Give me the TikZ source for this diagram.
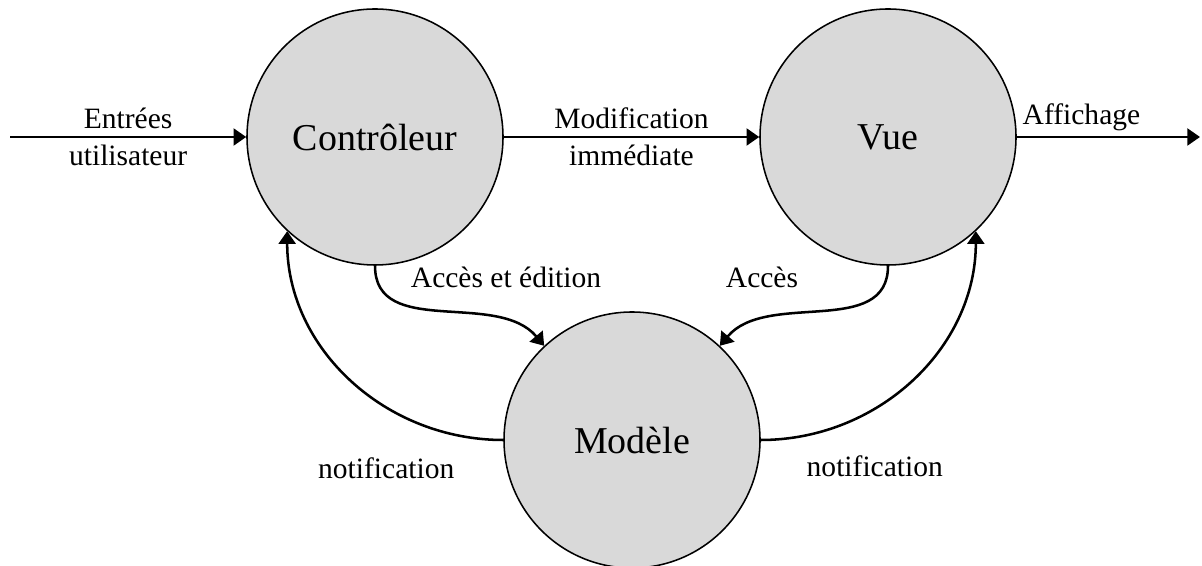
\documentclass[tikz,border=0pt]{standalone}
\usepackage{fontspec}
\setmainfont{Liberation Serif}
\usetikzlibrary{shapes,arrows.meta}
\definecolor{fond}{HTML}{D9D9D9}

\begin{document}
\begin{tikzpicture}[
  bulle/.style={circle,draw,line width=1.1pt,fill=fond,minimum size=6.4cm,inner sep=0pt,font=\fontsize{27}{32}\selectfont},
  fleche/.style={line width=1.8pt,-{Triangle[length=9pt,width=12pt]}},
  etiq/.style={font=\fontsize{21}{26}\selectfont,align=center}]
\useasboundingbox (0,0) rectangle (30.05,14.15);
\node[bulle] (ctrl) at (9.375,10.725) {Contrôleur};
\node[bulle] (vue) at (22.2,10.725) {Vue};
\node[bulle] (mod) at (15.8,3.15) {Modèle};
\coordinate (entree) at (0.25,10.725);
\coordinate (sortie) at (30.0,10.725);
\draw[fleche] (entree) -- (ctrl) node[midway,etiq] {Entrées\\utilisateur};
\draw[fleche] (ctrl) -- (vue) node[midway,etiq] {Modification\\immédiate};
\draw[fleche] (vue) -- (sortie) node[pos=0,above right,etiq] {Affichage};
\draw[fleche] (ctrl.south) node[etiq,anchor=west,xshift=0.75cm,yshift=-0.28cm] {Accès et édition}
  to[out=-90,in=130] (mod.133);
\draw[fleche] (vue.south) node[etiq,anchor=east,xshift=-2.1cm,yshift=-0.28cm] {Accès}
  to[out=-90,in=50] (mod.47);
\draw[fleche] (mod.west) node[etiq,anchor=east,xshift=-1.075cm,yshift=-0.7cm] {notification}
  to[out=180,in=-90] (ctrl.-133);
\draw[fleche] (mod.east) node[etiq,anchor=west,xshift=1cm,yshift=-0.65cm] {notification}
  to[out=0,in=-90] (vue.-47);
\end{tikzpicture}
\end{document}
